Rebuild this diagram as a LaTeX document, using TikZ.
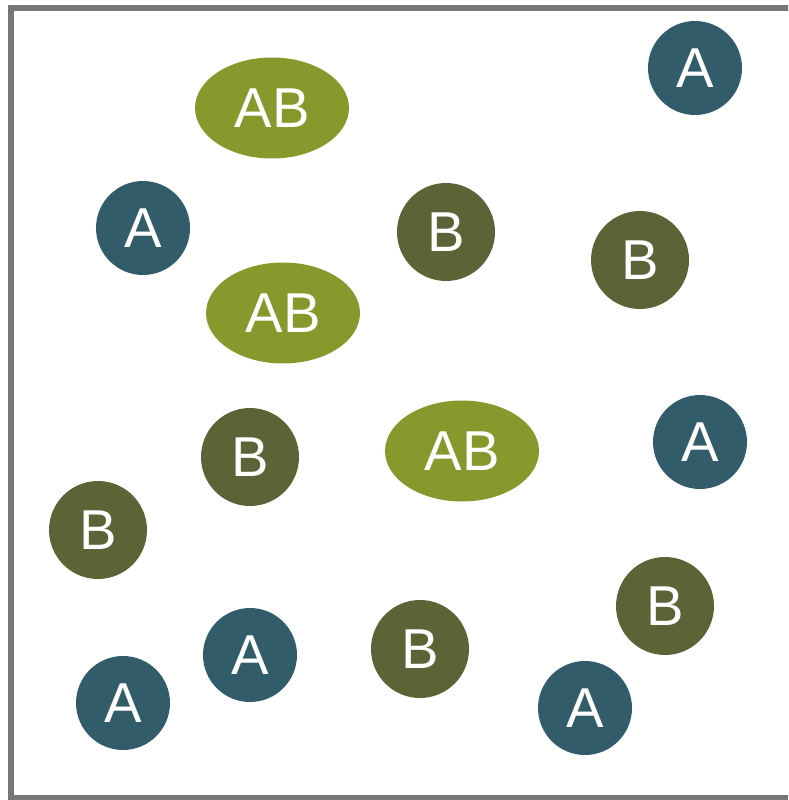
\documentclass[tikz,border=0pt]{standalone}
\usepackage{fontspec}
\setmainfont{Liberation Sans}
\usepackage{xcolor}
\usetikzlibrary{shapes.geometric}

\definecolor{tealA}{HTML}{325C6A}
\definecolor{oliveB}{HTML}{5E6237}
\definecolor{greenAB}{HTML}{86992C}
\definecolor{frame}{HTML}{777777}

\begin{document}
\begin{tikzpicture}[x=0.02cm, y=-0.02cm]

  %% Frame (right edge runs off the picture)
  \useasboundingbox (0,0) rectangle (788,800);
  \clip (0,0) rectangle (788,800);
  \draw[frame, line width=0.12cm] (11,8.5) rectangle (820,798);

  %% Particle styles
  \tikzset{
    pa/.style={circle, fill=tealA, minimum size=1.88cm, inner sep=0pt,
      text=white, font=\fontsize{32}{36}\selectfont},
    pb/.style={circle, fill=oliveB, minimum size=1.96cm, inner sep=0pt,
      text=white, font=\fontsize{32}{36}\selectfont},
    pab/.style={ellipse, fill=greenAB, minimum width=3.08cm, minimum height=2.02cm,
      inner sep=0pt, text=white, font=\fontsize{32}{36}\selectfont}
  }

  %% A particles
  \foreach \n/\x/\y in {1/695/68, 2/143/228, 3/700/442, 4/250/655, 5/123/703, 6/585/708}{
    \node[pa] (a\n) at (\x,\y) {A};
  }

  %% B particles
  \foreach \n/\x/\y in {1/446/232, 2/640/260, 3/250/457, 4/98/530, 5/665/606, 6/420/649}{
    \node[pb] (b\n) at (\x,\y) {B};
  }

  %% AB complexes
  \foreach \n/\x/\y in {1/272/108, 2/283/313, 3/462/451}{
    \node[pab] (ab\n) at (\x,\y) {AB};
  }

\end{tikzpicture}
\end{document}
